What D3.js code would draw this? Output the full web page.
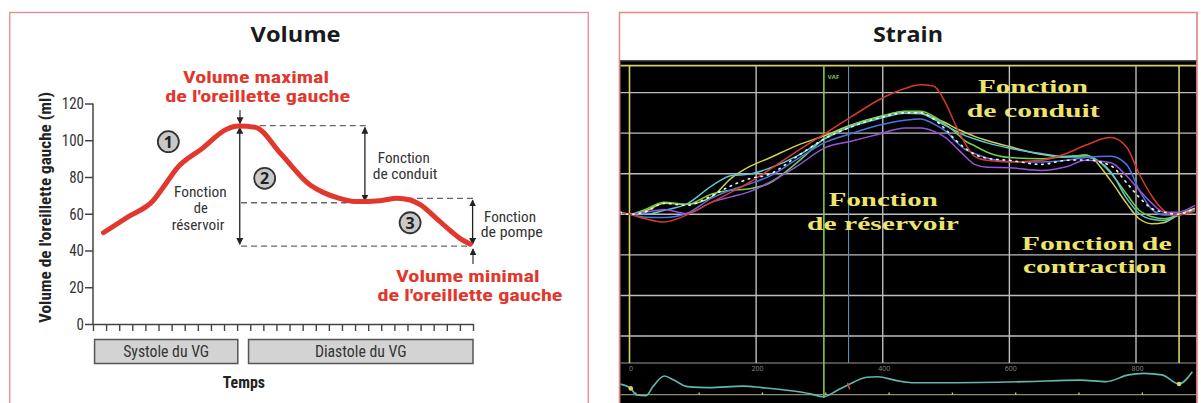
<!DOCTYPE html>
<html><head><meta charset="utf-8">
<script src="https://cdn.jsdelivr.net/npm/d3@7"></script>
<style>body{margin:0;background:#fff}svg{display:block}</style>
</head><body>
<svg id="c" width="1201" height="403"></svg>
<script>
// ---------- DATA: left panel (volume) ----------
const volTicks = [0, 20, 40, 60, 80, 100, 120];
const timeTicks = d3.range(0, 30);
const volTime   = [0.8, 2.7, 4.6, 5.5, 6.4, 8.3, 10.2, 11.1, 12.4, 14.3, 16.6, 17.6, 18.7, 20.1, 21.9, 23.2, 24.2, 25.0, 26.2, 27.3, 28.0, 28.8];
const volValues = [49.7, 58.4, 67.2, 75.8, 84.7, 95.3, 106, 107.7, 107, 92.9, 75.5, 71.5, 68.6, 66.6, 67.1, 68.4, 67.5, 64.8, 57.5, 50.6, 46.6, 43.4];
const phaseLabels = ["Systole du VG", "Diastole du VG"];
const phaseStart  = [0.12, 11.87];
const phaseEnd    = [11.05, 29.0];
const levelMax = 108, levelMid = 66, levelPreA = 68.4, levelMin = 42.4;

// ---------- DATA: right panel (strain) ----------
const strainTicks = [0, 200, 400, 600, 800];
const strainGrid  = [-30, -20, -10, 0, 10, 20, 30];
const strainTime = [-15, 0, 25, 55, 90, 130, 160, 190, 220, 265, 310, 350, 395, 435, 460, 480, 500, 515, 530, 545, 565, 600, 650, 690, 720, 760, 785, 805, 825, 845, 865, 893];
const strainRed    = [0.5, 0, -1.1, -1.9, -0.2, 3.0, 5.4, 7.9, 10.9, 15.6, 20.0, 24.0, 28.3, 31.0, 31.9, 31.6, 27.2, 22.0, 17.5, 14.3, 13.3, 12.9, 13.3, 15.0, 17.0, 18.9, 16.6, 10.0, 4.5, 0.8, -0.2, 0.8];
const strainYellow = [0.5, 0, 0.8, 2.7, 2.5, 4.3, 8.8, 11.8, 13.8, 17.0, 19.5, 22.0, 24.1, 25.3, 25.0, 23.8, 22.5, 21.2, 20.2, 19.2, 18.2, 16.7, 14.8, 14.1, 14.6, 8.3, 2.7, -1.1, -2.3, -2.0, -0.3, 1.5];
const strainGreen  = [0.5, 0, 1.2, 3.0, 2.4, 5.0, 5.9, 6.3, 7.6, 12.8, 18.9, 21.9, 24.0, 25.4, 25.4, 24.2, 22.0, 20.2, 18.1, 16.9, 15.3, 14.0, 13.7, 14.3, 14.5, 10.2, 5.0, 1.0, -0.6, -1.1, -0.3, 1.0];
const strainCyan   = [0.5, 0, 0, 1.0, 2.5, 7.0, 9.5, 9.9, 11.3, 14.4, 18.7, 21.6, 23.6, 24.9, 24.8, 23.5, 21.8, 20.6, 19.4, 18.6, 17.6, 16.3, 15.0, 14.2, 14.1, 10.5, 4.0, 0.2, -1.2, -1.5, -0.3, 1.2];
const strainBlue   = [0.3, 0, -0.7, -0.8, 0.2, 4.0, 6.0, 7.5, 9.3, 13.6, 17.8, 19.9, 22.0, 23.2, 23.5, 22.3, 20.4, 18.0, 16.0, 15.0, 13.9, 13.0, 12.9, 13.3, 14.0, 14.3, 12.3, 6.0, 1.2, -0.2, -0.2, 1.0];
const strainPurple = [0.5, 0, 0.5, 1.2, 0.2, 3.0, 4.3, 5.6, 7.8, 11.9, 16.5, 18.0, 19.8, 21.3, 21.3, 20.5, 18.8, 16.6, 14.3, 12.3, 11.6, 11.5, 10.8, 11.7, 13.3, 12.7, 9.5, 6.0, 2.7, 0.5, 0.5, 2.2];
const strainWhite  = [0.5, 0, 0.6, 2.7, 2.2, 4.6, 7.0, 8.8, 9.8, 14.3, 18.8, 21.5, 23.8, 25.0, 25.0, 23.5, 20.8, 18.3, 16.3, 14.8, 13.8, 13.3, 12.3, 13.3, 13.4, 12.0, 7.8, 4.2, 1.4, 0.5, 0.0, 1.5];
const ecgTime = [-16, 2, 11, 26, 37, 55, 70, 91, 126, 179, 209, 256, 286, 306, 327, 345, 375, 392, 422, 446, 505, 623, 712, 753, 788, 812, 841, 868, 889];
const ecgAmp  = [0.5, 0.33, 0.08, 0.05, 0.4, 0.81, 0.65, 0.4, 0.36, 0.42, 0.36, 0.24, 0.12, 0.01, 0.24, 0.46, 0.76, 0.78, 0.63, 0.55, 0.55, 0.59, 0.65, 0.59, 0.85, 0.91, 0.85, 0.5, 0.97];
const ecgTickTimes = [10, 110, 210, 310, 410, 510, 610, 710, 810];
const markerTimes = [0, 868];       // yellow markers
const avcTime = 307, blueMarkTime = 346;

// ---------- drawing ----------
const svg = d3.select('#c');
const narrow = "'Liberation Sans Narrow','Arial Narrow','Roboto Condensed',Roboto,sans-serif";
const sans = "'Open Sans','Noto Sans',sans-serif";
const serif = "'Liberation Serif','DejaVu Serif',serif";
const RED = '#e2372c', INK = '#333';

function label(g, s, x, y, o) {
  const t = g.append('text').attr('x', x).attr('y', y).text(s)
    .attr('text-anchor', o.anchor || 'middle')
    .attr('font-family', o.family || narrow)
    .attr('font-size', o.size || 15)
    .attr('font-weight', o.weight || 'normal')
    .attr('fill', o.fill || INK);
  if (o.w) t.attr('textLength', o.w).attr('lengthAdjust', 'spacingAndGlyphs');
  if (o.rotate) t.attr('transform', `rotate(${o.rotate},${x},${y})`);
  return t;
}

// ===== LEFT PANEL =====
const L = svg.append('g');
L.append('rect').attr('x', 9.75).attr('y', 12.5).attr('width', 578.5).attr('height', 420)
  .attr('fill', '#fff').attr('stroke', '#e88a8a').attr('stroke-width', 1.3);
label(L, 'Volume', 295.6, 41.5, {family: sans, size: 22, weight: 'bold', fill: '#1a1a1a', w: 90});

const xV = d3.scaleLinear().domain([0, 29]).range([93, 473]);
const yV = d3.scaleLinear().domain([0, 120]).range([324, 103.5]);

const ax = L.append('g').attr('transform', `translate(${xV(0)},0)`)
  .call(d3.axisLeft(yV).tickValues(volTicks).tickSize(8).tickSizeOuter(0).tickPadding(1));
ax.selectAll('text').attr('font-family', narrow).attr('font-size', 17).attr('fill', INK)
  .attr('textLength', d => String(d).length * 7.4).attr('lengthAdjust', 'spacingAndGlyphs');
ax.selectAll('path,line').attr('stroke', '#444').attr('stroke-width', 1.5);
ax.select('.domain').remove();
L.append('line').attr('x1', xV(0)).attr('x2', xV(0)).attr('y1', yV(0)).attr('y2', yV(120))
  .attr('stroke', '#444').attr('stroke-width', 1.5);

const bx = L.append('g').attr('transform', `translate(0,${yV(0)})`)
  .call(d3.axisBottom(xV).tickValues(timeTicks).tickSize(7).tickSizeOuter(0).tickFormat(''));
bx.selectAll('path,line').attr('stroke', '#444').attr('stroke-width', 1.4);

label(L, "Volume de l'oreillette gauche (ml)", 51, 207.5, {size: 16, weight: 'bold', fill: '#222', rotate: -90, w: 231});

// phase bands
phaseLabels.forEach((s, i) => {
  L.append('rect').attr('x', xV(phaseStart[i])).attr('y', 339.5)
    .attr('width', xV(phaseEnd[i]) - xV(phaseStart[i])).attr('height', 24)
    .attr('fill', '#d3d3d3').attr('stroke', '#555').attr('stroke-width', 1.5);
  label(L, s, (xV(phaseStart[i]) + xV(phaseEnd[i])) / 2, 357, {size: 16, fill: '#333', w: i ? 91.7 : 86});
});
label(L, 'Temps', 243.8, 387.5, {size: 16, weight: 'bold', fill: '#222', w: 42.3});

// dashed reference levels
const dashes = [[11.2, 20.9, levelMax], [11.3, 20.1, levelMid], [23.2, 29.0, levelPreA], [11.3, 28.8, levelMin]];
dashes.forEach(d => L.append('line').attr('x1', xV(d[0])).attr('x2', xV(d[1]))
  .attr('y1', yV(d[2])).attr('y2', yV(d[2]))
  .attr('stroke', '#666').attr('stroke-width', 1.3).attr('stroke-dasharray', '6,4'));

// arrow markers
const defs = svg.append('defs');
defs.append('marker').attr('id', 'ah').attr('viewBox', '0 0 10 10').attr('refX', 9).attr('refY', 5)
  .attr('markerWidth', 7).attr('markerHeight', 7).attr('markerUnits', 'userSpaceOnUse').attr('orient', 'auto-start-reverse')
  .append('path').attr('d', 'M0,0L10,5L0,10z').attr('fill', '#222');

function arrow(x, v1, v2, both) {
  const l = L.append('line').attr('x1', x).attr('x2', x).attr('y1', yV(v1)).attr('y2', yV(v2))
    .attr('stroke', '#222').attr('stroke-width', 1.3).attr('marker-end', 'url(#ah)');
  if (both) l.attr('marker-start', 'url(#ah)');
}
arrow(xV(11.2), levelMax - 1.0, levelMin + 1.0, true);
arrow(xV(20.75), levelMax - 1.0, levelMid + 1.0, true);
arrow(xV(28.97), levelPreA - 1.0, levelMin + 1.0, true);
L.append('line').attr('x1', 240).attr('x2', 240).attr('y1', 110).attr('y2', 123.5)
  .attr('stroke', '#222').attr('stroke-width', 1.1).attr('marker-end', 'url(#ah)');
L.append('line').attr('x1', 473).attr('x2', 473).attr('y1', 264).attr('y2', 249)
  .attr('stroke', '#222').attr('stroke-width', 1.1).attr('marker-end', 'url(#ah)');

// the volume curve
const vLine = d3.line().x((d, i) => xV(volTime[i])).y(d => yV(d)).curve(d3.curveMonotoneX);
L.append('path').datum(volValues).attr('d', vLine).attr('fill', 'none')
  .attr('stroke', RED).attr('stroke-width', 5).attr('stroke-linejoin', 'round').attr('stroke-linecap', 'round');

// circled numbers
[[5.75, 99.2, '1'], [13.1, 79.3, '2'], [24.2, 55.1, '3']].forEach(c => {
  L.append('circle').attr('cx', xV(c[0])).attr('cy', yV(c[1])).attr('r', 10.5)
    .attr('fill', '#c9c9c9').attr('stroke', '#333').attr('stroke-width', 1.8);
  label(L, c[2], xV(c[0]), yV(c[1]) + 6, {family: sans, size: 16, weight: 'bold', fill: '#222'});
});

// red captions
label(L, 'Volume maximal', 256, 83, {size: 16.5, weight: 'bold', fill: RED, w: 146});
label(L, "de l'oreillette gauche", 257.7, 102, {size: 16.5, weight: 'bold', fill: RED, w: 185});
label(L, 'Volume minimal', 467.8, 282, {size: 16.5, weight: 'bold', fill: RED, w: 143.6});
label(L, "de l'oreillette gauche", 470, 301, {size: 16.5, weight: 'bold', fill: RED, w: 185});

// function labels
label(L, 'Fonction', 403.8, 163, {size: 14.5, w: 52});
label(L, 'de conduit', 405, 178.5, {size: 14.5, w: 64.7});
label(L, 'Fonction', 510, 221.5, {size: 14.5, w: 52});
label(L, 'de pompe', 511.7, 236.5, {size: 14.5, w: 62});
label(L, 'Fonction', 200.3, 196.7, {size: 14.5, w: 52.7});
label(L, 'de', 200.7, 213.3, {size: 14.5});
label(L, 'réservoir', 198, 230, {size: 14.5, w: 52.6});

// ===== RIGHT PANEL =====
const R = svg.append('g');
R.append('rect').attr('x', 619.5).attr('y', 12.5).attr('width', 577.5).attr('height', 420)
  .attr('fill', '#fff').attr('stroke', '#e88a8a').attr('stroke-width', 1.3);
label(R, 'Strain', 908, 41.5, {family: sans, size: 21, weight: 'bold', fill: '#1a1a1a', w: 70});
R.append('rect').attr('x', 620.2).attr('y', 60.5).attr('width', 576.2).attr('height', 350).attr('fill', '#000');
R.append('line').attr('x1', 620).attr('x2', 1197).attr('y1', 61).attr('y2', 61).attr('stroke', '#333').attr('stroke-width', 1.5);

const xS = d3.scaleLinear().domain([0, 800]).range([629.5, 1136]);
const yS = d3.scaleLinear().domain([-36.65, 36.65]).range([363, 65.6]);
const yE = d3.scaleLinear().domain([0, 1]).range([397, 371]);
const X0 = 620.5, X1 = 1196.3;

// grid
strainGrid.forEach(v => R.append('line').attr('x1', X0).attr('x2', X1).attr('y1', yS(v)).attr('y2', yS(v))
  .attr('stroke', '#bdbdbd').attr('stroke-width', 1.4));
R.append('line').attr('x1', X0).attr('x2', X1).attr('y1', yS(-36.65)).attr('y2', yS(-36.65))
  .attr('stroke', '#9a9a9a').attr('stroke-width', 1.2);
R.append('line').attr('x1', X0).attr('x2', X1).attr('y1', yS(36.65)).attr('y2', yS(36.65))
  .attr('stroke', '#d6d06a').attr('stroke-width', 1.6);
strainTicks.filter(t => t > 0).forEach(t => R.append('line').attr('x1', xS(t)).attr('x2', xS(t))
  .attr('y1', yS(36.65)).attr('y2', yS(-36.65)).attr('stroke', '#bdbdbd').attr('stroke-width', 1.4));
markerTimes.forEach(t => R.append('line').attr('x1', xS(t)).attr('x2', xS(t))
  .attr('y1', yS(36.65)).attr('y2', yS(-36.65)).attr('stroke', '#d6d06a').attr('stroke-width', 1.6));
R.append('line').attr('x1', xS(blueMarkTime)).attr('x2', xS(blueMarkTime))
  .attr('y1', yS(36.65)).attr('y2', yS(-36.65)).attr('stroke', '#5d8fae').attr('stroke-width', 1.1);
R.append('line').attr('x1', xS(avcTime)).attr('x2', xS(avcTime))
  .attr('y1', yS(36.65)).attr('y2', 398).attr('stroke', '#86c84a').attr('stroke-width', 1.6);
R.append('text').attr('x', xS(avcTime) + 4).attr('y', 79).text('VAF')
  .attr('font-family', sans).attr('font-size', 6).attr('font-weight', 'bold').attr('fill', '#7ec850');

// tick labels
strainTicks.forEach(t => R.append('text').attr('x', xS(t) + 1.5).attr('y', 371).text(t)
  .attr('text-anchor', 'middle').attr('font-family', sans).attr('font-size', 7).attr('fill', '#8a8a8a'));

// strain curves
const clip = defs.append('clipPath').attr('id', 'plot');
clip.append('rect').attr('x', X0).attr('y', 62).attr('width', X1 - X0).attr('height', 301);
const sLine = d3.line().x((d, i) => xS(strainTime[i])).y(d => yS(d)).curve(d3.curveMonotoneX);
const curves = R.append('g').attr('clip-path', 'url(#plot)');
const series = [
  [strainYellow, '#cfcd55'], [strainGreen, '#6fd04c'], [strainCyan, '#5cc6d6'],
  [strainBlue, '#4d73e6'], [strainPurple, '#9a52db'], [strainRed, '#d63a2a']
];
series.forEach(s => curves.append('path').datum(s[0]).attr('d', sLine).attr('fill', 'none')
  .attr('stroke', s[1]).attr('stroke-width', 1.5));
curves.append('path').datum(strainWhite).attr('d', sLine).attr('fill', 'none')
  .attr('stroke', '#f4f4f4').attr('stroke-width', 1.6).attr('stroke-dasharray', '1.5,5').attr('stroke-linecap', 'round');

// yellow captions
const yel = '#ede46b';
label(R, 'Fonction', 1033, 92.7, {family: serif, size: 18, weight: 'bold', fill: yel, w: 110});
label(R, 'de conduit', 1033.3, 116.7, {family: serif, size: 18, weight: 'bold', fill: yel, w: 133});
label(R, 'Fonction', 883.3, 206, {family: serif, size: 18, weight: 'bold', fill: yel, w: 109});
label(R, 'de réservoir', 883, 230, {family: serif, size: 18, weight: 'bold', fill: yel, w: 152});
label(R, 'Fonction de', 1096.7, 249.7, {family: serif, size: 18, weight: 'bold', fill: yel, w: 150});
label(R, 'contraction', 1094.8, 273, {family: serif, size: 18, weight: 'bold', fill: yel, w: 143.7});

// ECG strip
R.append('line').attr('x1', X0).attr('x2', X1).attr('y1', 394.7).attr('y2', 394.7)
  .attr('stroke', '#8c8c70').attr('stroke-width', 1.2);
ecgTickTimes.forEach(t => R.append('line').attr('x1', xS(t)).attr('x2', xS(t)).attr('y1', 392.5).attr('y2', 394.7)
  .attr('stroke', '#d6d06a').attr('stroke-width', 1.3));
defs.append('clipPath').attr('id', 'ecgclip').append('rect').attr('x', X0).attr('y', 364).attr('width', X1 - X0).attr('height', 40);
const eLine = d3.line().x((d, i) => xS(ecgTime[i])).y(d => yE(d)).curve(d3.curveMonotoneX);
R.append('path').datum(ecgAmp).attr('d', eLine).attr('fill', 'none')
  .attr('stroke', '#62b7b0').attr('stroke-width', 1.6).attr('clip-path', 'url(#ecgclip)');
[[2, 0.33], [868, 0.5]].forEach(p => R.append('circle').attr('cx', xS(p[0])).attr('cy', yE(p[1])).attr('r', 2.3).attr('fill', '#d9d45a'));
R.append('line').attr('x1', xS(blueMarkTime) - 1).attr('x2', xS(blueMarkTime) + 1)
  .attr('y1', yE(0.55)).attr('y2', yE(0.3)).attr('stroke', '#e0402f').attr('stroke-width', 1.5);

// redraw border on top of black area
R.append('rect').attr('x', 619.5).attr('y', 12.5).attr('width', 577.5).attr('height', 420)
  .attr('fill', 'none').attr('stroke', '#e88a8a').attr('stroke-width', 1.3);
</script>
</body></html>
